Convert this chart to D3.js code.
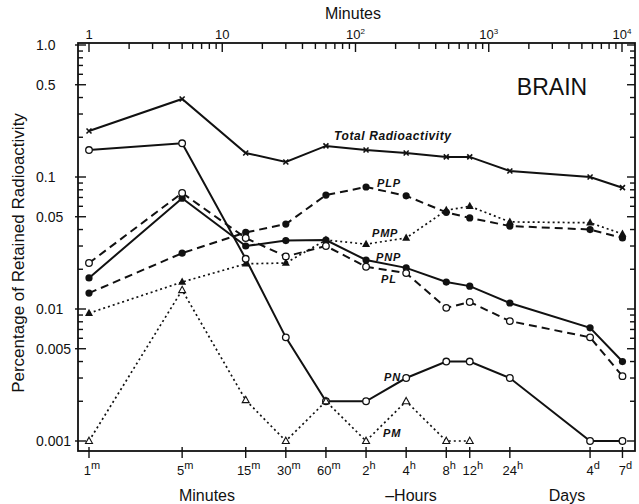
<!DOCTYPE html>
<html><head><meta charset="utf-8">
<script src="https://cdn.jsdelivr.net/npm/d3@7"></script>
<style>
body{margin:0;background:#fff;}
svg{display:block;}
text{font-family:"Liberation Sans","DejaVu Sans",sans-serif;fill:#111;}
</style></head>
<body><svg id="c" width="639" height="504"></svg>
<script>
// time points (minutes)
const times = [1, 5, 15, 30, 60, 120, 240, 480, 720, 1440, 5760, 10080];
const timeLabels = [["1","m"],["5","m"],["15","m"],["30","m"],["60","m"],["2","h"],["4","h"],["8","h"],["12","h"],["24","h"],["4","d"],["7","d"]];
const total = [0.223, 0.39, 0.152, 0.13, 0.172, 0.16, 0.152, 0.142, 0.142, 0.111, 0.100, 0.083];
const plp   = [0.0132, 0.0265, 0.038, 0.044, 0.073, 0.084, 0.072, 0.054, 0.049, 0.0425, 0.040, 0.0345];
const pmp   = [0.0093, 0.016, 0.022, 0.0223, 0.0333, 0.031, 0.0345, 0.056, 0.060, 0.0457, 0.045, 0.037];
const pnp   = [0.0172, 0.069, 0.030, 0.033, 0.0333, 0.0235, 0.0205, 0.016, 0.0149, 0.0111, 0.0072, 0.0040];
const pl    = [0.0223, 0.0757, 0.0345, 0.025, 0.030, 0.0209, 0.0187, 0.0102, 0.0113, 0.0081, 0.0061, 0.0031];
const pn    = [0.16, 0.18, 0.024, 0.0061, 0.002, 0.002, 0.003, 0.004, 0.004, 0.003, 0.001, 0.001];
const pm    = [0.001, 0.0139, 0.00204, 0.001, 0.002, 0.001, 0.002, 0.001, 0.001];
const yTickVals = [1.0, 0.5, 0.1, 0.05, 0.01, 0.005, 0.001];
const yTickLabels = ["1.0", "0.5", "0.1", "0.05", "0.01", "0.005", "0.001"];
const topTickVals = [1, 10, 100, 1000, 10000];
const topTickLabels = [["1",""],["10",""],["10","2"],["10","3"],["10","4"]];

const svg = d3.select("#c");
const x = d3.scaleLog().domain([1, 10000]).range([89, 622]);
const y = d3.scaleLog().domain([1, 0.001]).range([45, 441]);
const L = 78, R = 635, T = 43, B = 451;

// frame
svg.append("rect").attr("x", L).attr("y", T).attr("width", R - L).attr("height", B - T)
  .attr("fill", "none").attr("stroke", "#111").attr("stroke-width", 1.8);

// left & right minor/major ticks
const yMinor = [];
for (let e = 0; e >= -3; e--) for (let m = 1; m <= 9; m++) { const v = m * Math.pow(10, e - 1); if (v >= 0.001 && v <= 1) yMinor.push(v); }
yMinor.push(1);
const yt = svg.append("g");
yMinor.forEach(v => {
  const major = yTickVals.some(t => Math.abs(t - v) / t < 1e-6);
  const len = major ? 8 : 5;
  yt.append("line").attr("x1", L).attr("x2", L + len).attr("y1", y(v)).attr("y2", y(v)).attr("stroke", "#111").attr("stroke-width", 1.4);
  yt.append("line").attr("x1", R).attr("x2", R - len).attr("y1", y(v)).attr("y2", y(v)).attr("stroke", "#111").attr("stroke-width", 1.4);
});
yTickVals.forEach((v, i) => {
  yt.append("line").attr("x1", L - 3).attr("x2", L).attr("y1", y(v)).attr("y2", y(v)).attr("stroke", "#111").attr("stroke-width", 1.4);
  yt.append("text").attr("x", 36).attr("y", y(v) + 5).attr("text-anchor", "start")
    .attr("font-size", 14).text(yTickLabels[i]);
});

// top ticks
const xMinor = [];
for (let e = 0; e < 4; e++) for (let m = 1; m <= 9; m++) xMinor.push(m * Math.pow(10, e));
xMinor.push(10000);
const xt = svg.append("g");
xMinor.forEach(v => {
  const major = topTickVals.includes(v);
  xt.append("line").attr("x1", x(v)).attr("x2", x(v)).attr("y1", T).attr("y2", T + (major ? 9 : 6)).attr("stroke", "#111").attr("stroke-width", 1.4);
});
topTickVals.forEach((v, i) => {
  const t = xt.append("text").attr("x", x(v)).attr("y", 39).attr("text-anchor", "middle").attr("font-size", 13);
  t.append("tspan").text(topTickLabels[i][0]);
  if (topTickLabels[i][1]) t.append("tspan").attr("dy", -5).attr("font-size", 8).text(topTickLabels[i][1]);
});
svg.append("text").attr("x", 353).attr("y", 19).attr("text-anchor", "middle").attr("font-size", 16).text("Minutes");

// bottom ticks
const bt = svg.append("g");
times.forEach((v, i) => {
  bt.append("line").attr("x1", x(v)).attr("x2", x(v)).attr("y1", B - 4).attr("y2", B + 7).attr("stroke", "#111").attr("stroke-width", 1.4);
  const t = bt.append("text").attr("x", x(v) + 3).attr("y", 475).attr("text-anchor", "middle").attr("font-size", 13);
  t.append("tspan").text(timeLabels[i][0]);
  t.append("tspan").attr("dy", -6).attr("font-size", 11).text(timeLabels[i][1]);
});
svg.append("text").attr("x", 207).attr("y", 501).attr("text-anchor", "middle").attr("font-size", 16).text("Minutes");
svg.append("text").attr("x", 411).attr("y", 501).attr("text-anchor", "middle").attr("font-size", 16).text("\u2012Hours");
svg.append("text").attr("x", 567).attr("y", 501).attr("text-anchor", "middle").attr("font-size", 16).text("Days");

// y title
svg.append("text").attr("transform", "translate(24,253) rotate(-90)").attr("text-anchor", "middle")
  .attr("font-size", 17).text("Percentage of Retained Radioactivity");

// BRAIN
svg.append("text").attr("x", 552).attr("y", 95).attr("text-anchor", "middle").attr("font-size", 23).text("BRAIN");

// series
const series = [
  {vals: total, dash: null, marker: "x"},
  {vals: plp, dash: "8,5", marker: "filledCircle"},
  {vals: pmp, dash: "2,3", marker: "filledTri"},
  {vals: pnp, dash: null, marker: "filledCircle"},
  {vals: pl, dash: "8,5", marker: "openCircle"},
  {vals: pn, dash: null, marker: "openCircle"},
  {vals: pm, dash: "2,3", marker: "openTri"}
];
const line = d3.line().x(d => x(d[0])).y(d => y(d[1]));
const gs = svg.append("g");
series.forEach(s => {
  const pts = s.vals.map((v, i) => [times[i], v]);
  gs.append("path").attr("d", line(pts)).attr("fill", "none").attr("stroke", "#111")
    .attr("stroke-width", s.dash === "2,3" ? 1.7 : 2).attr("stroke-dasharray", s.dash);
  pts.forEach(p => {
    const cx = x(p[0]), cy = y(p[1]);
    if (s.marker === "x") {
      gs.append("path").attr("d", `M${cx-2.5},${cy-2.5}L${cx+2.5},${cy+2.5}M${cx-2.5},${cy+2.5}L${cx+2.5},${cy-2.5}`)
        .attr("stroke", "#111").attr("stroke-width", 1.6);
    } else if (s.marker === "filledCircle") {
      gs.append("circle").attr("cx", cx).attr("cy", cy).attr("r", 3.6).attr("fill", "#111");
    } else if (s.marker === "openCircle") {
      gs.append("circle").attr("cx", cx).attr("cy", cy).attr("r", 3.3).attr("fill", "#fff").attr("stroke", "#111").attr("stroke-width", 1.3);
    } else if (s.marker === "filledTri") {
      gs.append("path").attr("d", `M${cx},${cy-4.5}L${cx+4},${cy+2.8}L${cx-4},${cy+2.8}Z`).attr("fill", "#111");
    } else if (s.marker === "openTri") {
      gs.append("path").attr("d", `M${cx},${cy-3.8}L${cx+3.5},${cy+2.5}L${cx-3.5},${cy+2.5}Z`).attr("fill", "#fff").attr("stroke", "#111").attr("stroke-width", 1.1);
    }
  });
});

// series labels
const labs = [
  ["Total Radioactivity", 334, 140],
  ["PLP", 377, 187],
  ["PMP", 372, 237],
  ["PNP", 376, 261],
  ["PL", 381, 283],
  ["PN", 384, 381],
  ["PM", 383, 437]
];
labs.forEach(l => {
  svg.append("text").attr("x", l[1]).attr("y", l[2]).attr("font-size", l[0].length > 4 ? 12 : 11)
    .attr("font-style", "italic").attr("font-weight", "bold").attr("letter-spacing", l[0].length > 4 ? 0.6 : 0.8).text(l[0]);
});
</script></body></html>
